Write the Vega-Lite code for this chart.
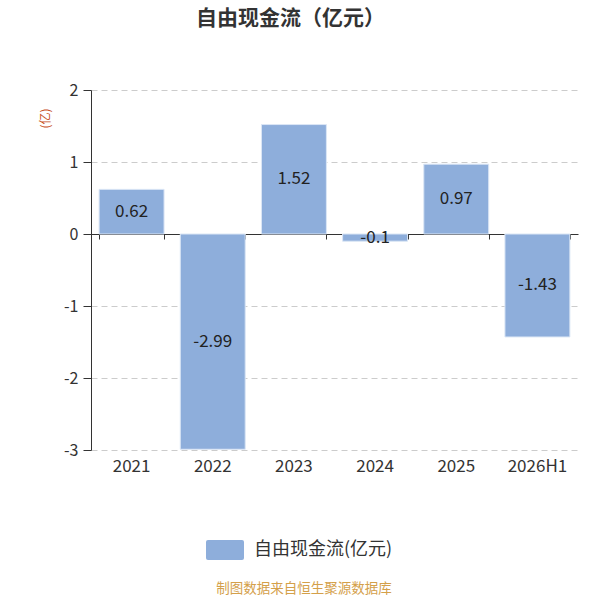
{
  "$schema": "https://vega.github.io/schema/vega-lite/v6.json",
  "autosize": {"type": "none"},
  "width": 487,
  "height": 360,
  "padding": {"left": 91, "top": 90, "right": 22, "bottom": 150},
  "background": "white",
  "config": {
    "font": "Noto Sans CJK SC",
    "view": {"stroke": null}
  },
  "title": {
    "text": "自由现金流（亿元）",
    "fontSize": 21,
    "fontWeight": "bold",
    "color": "#333333",
    "anchor": "middle",
    "dx": -44,
    "offset": 53
  },
  "data": {
    "values": [
      {"period": "2021", "value": 0.62, "series": "自由现金流(亿元)"},
      {"period": "2022", "value": -2.99, "series": "自由现金流(亿元)"},
      {"period": "2023", "value": 1.52, "series": "自由现金流(亿元)"},
      {"period": "2024", "value": -0.1, "series": "自由现金流(亿元)"},
      {"period": "2025", "value": 0.97, "series": "自由现金流(亿元)"},
      {"period": "2026H1", "value": -1.43, "series": "自由现金流(亿元)"}
    ]
  },
  "transform": [
    {"calculate": "datum.value / 2", "as": "mid"},
    {"calculate": "toString(datum.value)", "as": "label"}
  ],
  "encoding": {
    "x": {
      "field": "period",
      "type": "nominal",
      "sort": null,
      "scale": {"paddingInner": 0.2, "paddingOuter": 0.1}
    }
  },
  "layer": [
    {
      "mark": {"type": "bar", "stroke": "#dbe6f5", "strokeWidth": 1},
      "encoding": {
        "x": {
          "field": "period",
          "type": "nominal",
          "sort": null,
          "axis": {
            "orient": "bottom",
            "title": null,
            "domain": false,
            "ticks": false,
            "labelAngle": 0,
            "labelFontSize": 17,
            "labelColor": "#333333",
            "labelPadding": 8
          }
        },
        "y": {
          "field": "value",
          "type": "quantitative",
          "scale": {"domain": [-3, 2], "nice": false},
          "axis": {
            "values": [-3, -2, -1, 0, 1, 2],
            "labelExpr": "toString(datum.value)",
            "title": "(亿)",
            "titleColor": "#c8501e",
            "titleFontSize": 12,
            "titleFontWeight": "normal",
            "titleX": -46,
            "titleY": 28,
            "titleAlign": "center",
            "titleBaseline": "middle",
            "labelFontSize": 16,
            "labelColor": "#333333",
            "labelPadding": 5,
            "tickSize": 8,
            "tickColor": "#333333",
            "domainColor": "#333333",
            "grid": true,
            "gridColor": "#cccccc",
            "gridDash": [6, 4]
          }
        },
        "color": {
          "field": "series",
          "type": "nominal",
          "scale": {"range": ["#8eaedb"]},
          "legend": {
            "orient": "none",
            "legendX": 124,
            "legendY": 450,
            "title": "制图数据来自恒生聚源数据库",
            "titleOrient": "bottom",
            "titleAnchor": "middle",
            "titleColor": "#d4a04a",
            "titleFontSize": 13.5,
            "titleFontWeight": "normal",
            "titlePadding": 22,
            "labelFontSize": 18,
            "labelColor": "#333333",
            "labelOffset": 19,
            "symbolType": "M-1.7,-1 H1.7 Q1.9,-1 1.9,-0.8 V0.8 Q1.9,1 1.7,1 H-1.7 Q-1.9,1 -1.9,0.8 V-0.8 Q-1.9,-1 -1.7,-1 Z",
            "symbolSize": 400,
            "symbolStrokeWidth": 0,
            "symbolOpacity": 1
          }
        }
      }
    },
    {
      "mark": {"type": "text", "fontSize": 17, "color": "#222222", "baseline": "middle"},
      "encoding": {
        "x": {
          "field": "period",
          "type": "nominal",
          "sort": null,
          "axis": {
            "orient": "bottom",
            "offset": -216,
            "title": null,
            "labels": false,
            "domainColor": "#333333",
            "tickColor": "#333333",
            "tickSize": 5,
            "tickBand": "extent",
            "grid": false
          }
        },
        "y": {"field": "mid", "type": "quantitative"},
        "text": {"field": "label", "type": "nominal"}
      }
    }
  ],
  "resolve": {"axis": {"x": "independent"}}
}
